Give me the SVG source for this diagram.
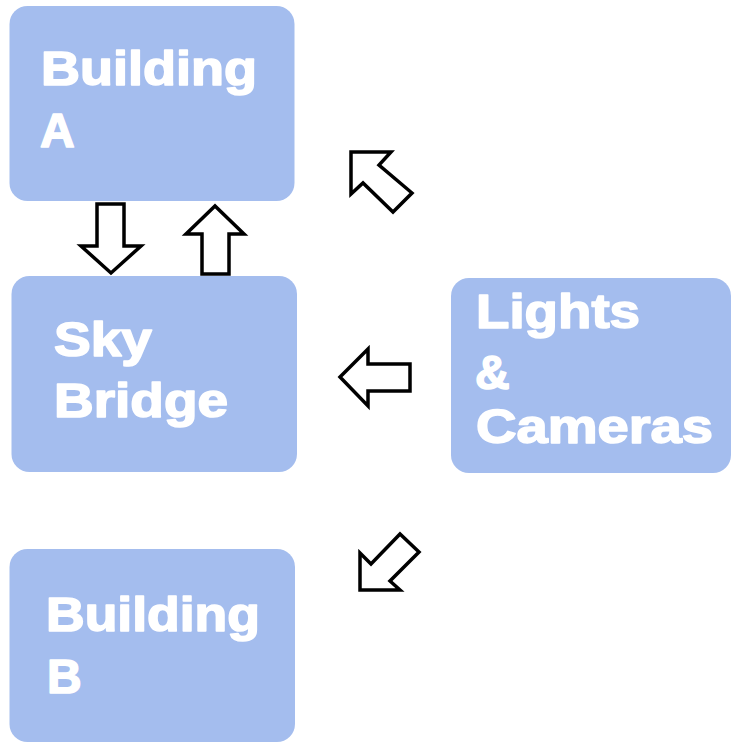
<svg xmlns="http://www.w3.org/2000/svg" width="731" height="743" viewBox="0 0 731 743">
<style>
.box{fill:#a4bdee;}
.lbl{fill:#ffffff;stroke:#ffffff;stroke-width:1.6;stroke-linejoin:round;font-family:"Liberation Sans",Arial,sans-serif;font-weight:bold;font-size:48px;}
.arr{fill:#ffffff;stroke:#000000;stroke-width:3.5;stroke-linejoin:miter;}
</style>
<rect width="731" height="743" fill="#ffffff"/>
<g id="building-a">
<rect class="box" x="9.5" y="6" width="285" height="195" rx="18"/>
<text class="lbl" x="41" y="85" textLength="216" lengthAdjust="spacingAndGlyphs">Building</text>
<text class="lbl" x="40" y="147">A</text>
</g>
<g id="sky-bridge">
<rect class="box" x="11.5" y="276" width="285.5" height="196" rx="18"/>
<text class="lbl" x="54" y="356" textLength="98" lengthAdjust="spacingAndGlyphs">Sky</text>
<text class="lbl" x="54" y="417" textLength="174" lengthAdjust="spacingAndGlyphs">Bridge</text>
</g>
<g id="lights-cameras">
<rect class="box" x="451" y="278" width="280" height="195" rx="18"/>
<text class="lbl" x="476" y="328" textLength="164" lengthAdjust="spacingAndGlyphs">Lights</text>
<text class="lbl" x="475" y="389">&amp;</text>
<text class="lbl" x="476" y="443" textLength="237" lengthAdjust="spacingAndGlyphs">Cameras</text>
</g>
<g id="building-b">
<rect class="box" x="9.5" y="549" width="285.5" height="193" rx="18"/>
<text class="lbl" x="46" y="631" textLength="214" lengthAdjust="spacingAndGlyphs">Building</text>
<text class="lbl" x="47" y="693">B</text>
</g>
<g id="connectors">
<polygon class="arr" points="97,204 124,204 124,246 141,246 111,273 81,246 97,246"/>
<polygon class="arr" points="202,274 229,274 229,234 244,234 215,206 186,234 202,234"/>
<polygon class="arr" points="410,364 368,364 368,349 340,377 368,406 368,391 410,391"/>
<polygon class="arr" points="351,152 391,152 379,165 412,193 393,212 363,183 351,194"/>
<polygon class="arr" points="360,590 360,553 371,564 400,534 419,552 390,581 400,590"/>
</g>
</svg>
